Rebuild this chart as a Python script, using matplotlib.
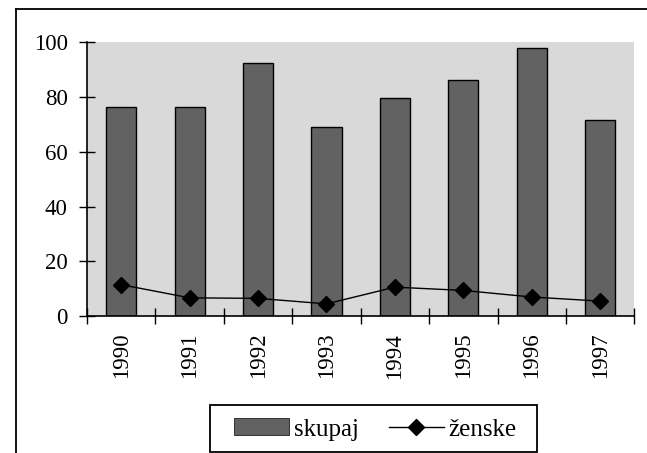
import matplotlib
matplotlib.use("Agg")
import matplotlib.pyplot as plt
from matplotlib.lines import Line2D
from matplotlib.patches import Patch, Rectangle

years = ["1990", "1991", "1992", "1993", "1994", "1995", "1996", "1997"]
skupaj = [76.5, 76.5, 92.5, 69, 79.5, 86, 98, 71.5]
zenske = [11.5, 6.7, 6.5, 4.5, 10.6, 9.4, 7, 5.5]
yticks = [0, 20, 40, 60, 80, 100]

plt.rcParams['font.family'] = ['Liberation Serif', 'DejaVu Serif']

fig = plt.figure(figsize=(6.47, 4.53), dpi=100)
ax = fig.add_axes([0.1345, 0.302, 0.846, 0.605])
ax.set_facecolor('#d9d9d9')

x = list(range(len(years)))
ax.bar(x, skupaj, width=0.44, color='#626262', edgecolor='black', linewidth=1.0, zorder=2)
ax.plot(x, zenske, color='black', linewidth=1.0, marker='D', markersize=8,
        markerfacecolor='black', markeredgecolor='black', zorder=3)

ax.set_xlim(-0.5, 7.5)
ax.set_ylim(0, 100)
ax.set_yticks(yticks)
ax.set_yticklabels([str(v) for v in yticks], fontsize=16.5)
ax.set_xticks(x)
ax.set_xticklabels(years, rotation=90, fontsize=16.5)
ax.set_xticks([i - 0.5 for i in range(len(years) + 1)], minor=True)
ax.tick_params(axis='x', which='major', length=0, pad=12)
ax.tick_params(axis='x', which='minor', direction='inout', length=12, width=1)
ax.tick_params(axis='y', which='major', direction='inout', length=12, width=1, pad=8)
for s in ['top', 'right']:
    ax.spines[s].set_visible(False)
for s in ['left', 'bottom']:
    ax.spines[s].set_linewidth(1.2)

handles = [Patch(facecolor='#626262', edgecolor='black', linewidth=0.5),
           Line2D([0], [0], color='black', linewidth=1.0, marker='D', markersize=8,
                  markerfacecolor='black')]
leg = fig.legend(handles, ['skupaj', 'ženske'], ncol=2, loc='center',
                 bbox_to_anchor=(0.58, 0.052), fontsize=18, frameon=False,
                 handlelength=2.2, columnspacing=1.2, handletextpad=0.2,
                 handleheight=0.65)

# legend box
fig.add_artist(Rectangle((0.3246, 0.003), 0.5054, 0.104, transform=fig.transFigure,
                         fill=False, edgecolor='black', linewidth=1.3))

# outer frame lines (left and top)
fig.add_artist(Line2D([0.025, 0.025], [0.0, 0.980], color='black', linewidth=1.3,
                      transform=fig.transFigure))
fig.add_artist(Line2D([0.025, 1.0], [0.980, 0.980], color='black', linewidth=1.3,
                      transform=fig.transFigure))

fig.savefig('out.png', dpi=100)
